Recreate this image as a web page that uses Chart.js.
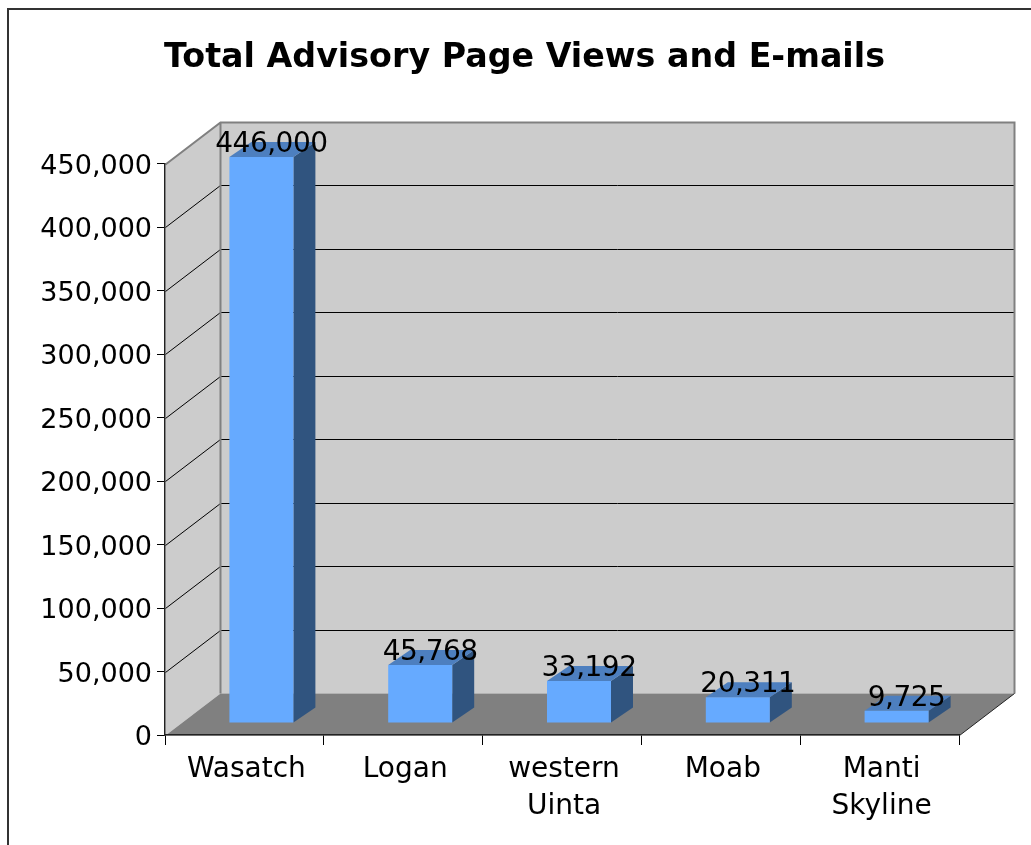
<!DOCTYPE html>
<html>
<head>
<meta charset="utf-8">
<title>Total Advisory Page Views and E-mails</title>
<script src="https://cdn.jsdelivr.net/npm/chart.js@4"></script>
<style>
  html, body { margin: 0; padding: 0; background: #fff; overflow: hidden; }
  canvas { display: block; }
</style>
</head>
<body>
<canvas id="grafico" width="1031" height="845"></canvas>
<script>
// datos
const categorias = [['Wasatch'], ['Logan'], ['western', 'Uinta'], ['Moab'], ['Manti', 'Skyline']];
const vistas = [446000, 45768, 33192, 20311, 9725];
const tituloGrafico = 'Total Advisory Page Views and E-mails';

// profundidad de la caja y de las barras (falso 3D)
const fondoX = 55, fondoY = -42;
const barraX = 17, barraY = -12;
const caraX = 22, caraY = -15;

const numero = (v) => Number(v).toLocaleString('en-US');

const poligono = (ctx, puntos, relleno) => {
    ctx.beginPath();
    puntos.forEach((p, i) => (i ? ctx.lineTo(p[0], p[1]) : ctx.moveTo(p[0], p[1])));
    ctx.closePath();
    ctx.fillStyle = relleno;
    ctx.fill();
};

// marco, paredes, piso y lineas de la grilla van detras de los ejes
const caja3d = {
    id: 'caja3d',
    beforeDraw(chart) {
        const { ctx, chartArea: a, scales } = chart;
        const L = a.left + 0.5, R = a.right + 0.5, T = a.top + 0.5, B = a.bottom + 0.5;
        ctx.save();
        ctx.strokeStyle = '#333333';
        ctx.lineWidth = 2;
        ctx.beginPath();
        ctx.moveTo(8, 845);
        ctx.lineTo(8, 9);
        ctx.lineTo(1031, 9);
        ctx.stroke();

        poligono(ctx, [[L + fondoX, T + fondoY], [R + fondoX, T + fondoY], [R + fondoX, B + fondoY], [L + fondoX, B + fondoY]], '#cccccc');
        poligono(ctx, [[L, T], [L + fondoX, T + fondoY], [L + fondoX, B + fondoY], [L, B]], '#cccccc');
        poligono(ctx, [[L, B], [L + fondoX, B + fondoY], [R + fondoX, B + fondoY], [R, B]], '#808080');

        ctx.lineWidth = 1;
        ctx.strokeStyle = '#000000';
        scales.y.ticks.forEach((t, i) => {
            if (t.value === 0 || t.value === scales.y.max) return;
            const y = Math.round(scales.y.getPixelForTick(i)) + 0.5;
            ctx.beginPath();
            ctx.moveTo(L, y);
            ctx.lineTo(L + fondoX, y + fondoY);
            ctx.lineTo(R + fondoX, y + fondoY);
            ctx.stroke();
        });

        ctx.lineWidth = 2;
        ctx.strokeStyle = '#808080';
        ctx.beginPath();
        ctx.moveTo(L, T);
        ctx.lineTo(L + fondoX, T + fondoY);
        ctx.lineTo(R + fondoX, T + fondoY);
        ctx.lineTo(R + fondoX, B + fondoY);
        ctx.moveTo(L + fondoX, T + fondoY);
        ctx.lineTo(L + fondoX, B + fondoY);
        ctx.stroke();

        ctx.lineWidth = 1;
        ctx.strokeStyle = '#222222';
        ctx.beginPath();
        ctx.moveTo(R, B);
        ctx.lineTo(R + fondoX, B + fondoY);
        ctx.stroke();
        ctx.restore();
    },
    // las barras se dibujan corridas hacia el fondo, con su cara lateral y superior
    beforeDatasetsDraw(chart) {
        const { ctx } = chart;
        ctx.save();
        ctx.translate(barraX, barraY);
        chart.getDatasetMeta(0).data.forEach((b) => {
            const izq = b.x - b.width / 2, der = b.x + b.width / 2;
            poligono(ctx, [[der, b.y], [der + caraX, b.y + caraY], [der + caraX, b.base + caraY], [der, b.base]], '#30547f');
            poligono(ctx, [[izq, b.y], [izq + caraX, b.y + caraY], [der + caraX, b.y + caraY], [der, b.y]], '#4d7fbf');
        });
    },
    afterDatasetsDraw(chart) {
        const { ctx } = chart;
        ctx.font = '28px "DejaVu Sans"';
        ctx.letterSpacing = '-0.5px';
        ctx.fillStyle = '#000000';
        ctx.textAlign = 'center';
        ctx.textBaseline = 'alphabetic';
        chart.getDatasetMeta(0).data.forEach((b, i) => {
            ctx.fillText(numero(vistas[i]), b.x + 10, b.y - 5);
        });
        ctx.restore();
    },
};

const ctx = document.getElementById('grafico');

new Chart(ctx, {
    type: 'bar',
    data: {
        labels: categorias,
        datasets: [
            {
                data: vistas,
                backgroundColor: '#66aaff',
                borderWidth: 0,
                barPercentage: 0.403,
                categoryPercentage: 1,
                clip: false,
            },
        ],
    },
    options: {
        responsive: false,
        animation: false,
        layout: {
            autoPadding: false,
            padding: { left: 18, right: 0, top: 0, bottom: 0 },
        },
        plugins: {
            legend: { display: false },
            tooltip: { enabled: false },
            title: {
                display: true,
                text: tituloGrafico,
                color: '#000000',
                font: { family: '"DejaVu Sans"', size: 33.3, weight: 'bold' },
                padding: { top: 38, bottom: 86 },
            },
        },
        scales: {
            x: {
                afterFit: (s) => { s.height = 110; },
                grid: { drawOnChartArea: false, tickLength: 10, color: '#000000', offset: true },
                border: { color: '#222222', width: 1.5 },
                ticks: {
                    color: '#000000',
                    maxRotation: 0,
                    autoSkip: false,
                    padding: 6,
                    labelOffset: 2,
                    font: { family: '"DejaVu Sans"', size: 28, lineHeight: 1.33 },
                },
            },
            y: {
                min: 0,
                max: 450000,
                afterFit: (s) => { s.width = 147; },
                grid: { drawOnChartArea: false, tickLength: 8, color: '#000000' },
                border: { color: '#222222', width: 1.5 },
                ticks: {
                    stepSize: 50000,
                    color: '#000000',
                    padding: 5,
                    labelOffset: 3,
                    font: { family: '"DejaVu Sans"', size: 27 },
                    callback: (v) => numero(v),
                },
            },
            // eje vacio: solo reserva el margen derecho de la caja
            margen: {
                axis: 'y',
                position: 'right',
                afterFit: (s) => { s.width = 72; },
                grid: { display: false },
                border: { display: false },
                ticks: { display: false },
            },
        },
    },
    plugins: [caja3d],
});
</script>
</body>
</html>
